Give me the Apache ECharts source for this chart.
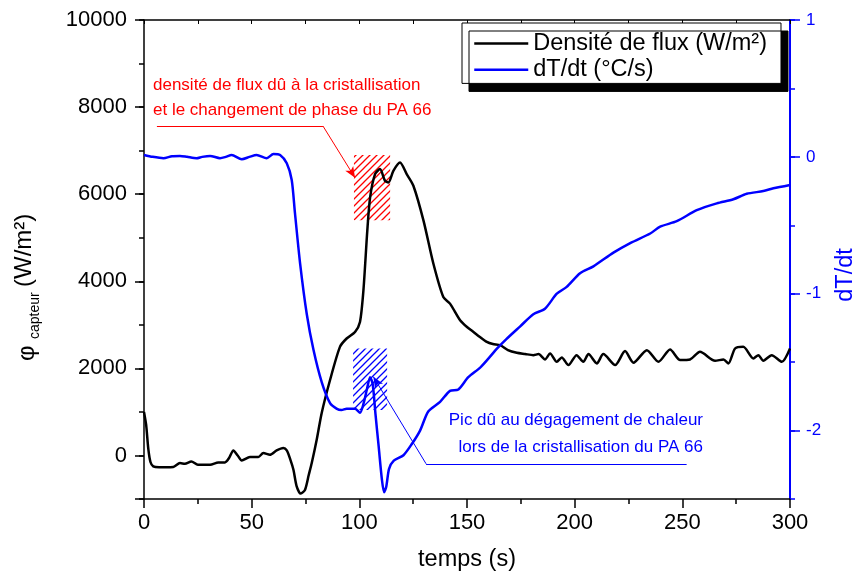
<!DOCTYPE html>
<html><head><meta charset="utf-8">
<script src="https://cdn.jsdelivr.net/npm/echarts@6/dist/echarts.min.js"></script>
<style>html,body{margin:0;padding:0;background:#fff}#c{width:856px;height:575px}</style>
</head><body><div id="c"></div>
<script>
// ---------- data ----------
const fluxTime = [0,1,2,3,4.3,7,10,13.6,16.7,19,22,25,30.7,34.5,37.6,39.5,41.5,43.5,45.4,49.2,53.1,55.4,58.5,61.6,64.7,66.3,68,69.4,70.9,72.8,74.8,76.5,77.9,80.2,82.5,86.4,91,94.1,98,100.3,101.9,103.7,105,107.3,109.6,111.9,113.5,115.8,118.9,122,125.1,129.8,134.4,139,142.1,146.8,150,153,156,159.2,162,165.4,169,173.1,177,180.8,183.2,186.2,188.6,191.7,194,197.1,200.9,204,206.4,210.3,213.3,218.8,223.4,227.3,233.5,238.9,244.3,249,253.6,258.2,265.2,269.1,271.4,274.5,278.3,283,285.3,287.6,291.5,296.2,300];
const fluxValues = [1000,700,150,-150,-250,-270,-270,-265,-175,-190,-137,-213,-213,-160,-160,-60,115,0,-115,-37,-37,55,16,115,170,115,-100,-327,-709,-876,-785,-450,-174,359,970,1732,2494,2686,2837,3066,3791,5164,5926,6461,6576,6308,6269,6537,6727,6461,6194,5393,4402,3638,3487,3105,2950,2837,2720,2608,2560,2533,2420,2357,2330,2304,2327,2205,2343,2151,2251,2075,2304,2151,2327,2114,2327,2075,2396,2128,2418,2151,2434,2190,2205,2380,2174,2205,2114,2457,2494,2228,2304,2174,2304,2151,2457];
const rateTime = [0,4,9,13,16.7,20,24.4,27,30.7,35.3,38,40.7,45.4,49,52.3,57,60.1,63.2,66.3,68.6,70.1,72.5,75.6,78.7,82.6,86.4,89.4,91.7,94.1,98,100.3,102,103.5,105,106.2,107.5,109,110.5,111.5,112.5,113.8,116,120.5,124.3,128.2,132,137.5,142.1,146,150.6,156.1,160.7,164,168.4,174.6,180.8,186.2,191.7,196.3,202.5,208.7,218,225.8,235.1,239.7,247.4,256.7,266,273.7,279.9,287.6,292.3,300];
const rateValues = [0.014,0,-0.01,0.005,0.007,0,-0.01,0,0.007,-0.01,0,0.014,-0.018,0,0.014,-0.01,0.021,0.014,-0.047,-0.169,-0.41,-0.78,-1.15,-1.41,-1.65,-1.80,-1.84,-1.85,-1.84,-1.84,-1.87,-1.80,-1.70,-1.61,-1.66,-1.88,-2.12,-2.36,-2.45,-2.41,-2.28,-2.22,-2.18,-2.10,-2.00,-1.86,-1.79,-1.71,-1.70,-1.61,-1.54,-1.46,-1.40,-1.33,-1.24,-1.15,-1.11,-1.00,-0.95,-0.85,-0.80,-0.70,-0.63,-0.56,-0.51,-0.47,-0.39,-0.34,-0.31,-0.27,-0.25,-0.23,-0.205];
const bottomTickLabels = [0,50,100,150,200,250,300];
const leftTickLabels = [0,2000,4000,6000,8000,10000];
const rightTickLabels = [-2,-1,0,1];
const seriesNames = ['Densité de flux (W/m²)','dT/dt (°C/s)'];
// annotation anchors (data coordinates)
const redHatch = [[97.5,6900],[114.3,5400]];
const blueHatch = [[97.1,-1.40],[112.9,-1.85]];
const redLeader = [[6,7566],[83.1,7566],[98,6377]];
const blueLeader = [[252,-2.243],[131,-2.243],[106.5,-1.606]];

const FONT = '"Liberation Sans", Arial, sans-serif';
function hatch(color){
  const c = document.createElement('canvas'); c.width = 7; c.height = 7;
  const g = c.getContext('2d'); g.strokeStyle = color; g.lineWidth = 1.3;
  g.beginPath();
  g.moveTo(0,7); g.lineTo(7,0);
  g.moveTo(-1,1); g.lineTo(1,-1);
  g.moveTo(6,8); g.lineTo(8,6);
  g.stroke();
  return {image:c, repeat:'repeat'};
}
const fluxData = fluxTime.map((t,i)=>[t,fluxValues[i]]);
const rateData = rateTime.map((t,i)=>[t,rateValues[i]]);

const chart = echarts.init(document.getElementById('c'), null, {renderer:'canvas'});
chart.setOption({
  animation:false,
  backgroundColor:'#fff',
  grid:{left:144,right:66,top:20,bottom:76,containLabel:false},
  legend:{
    orient:'vertical', left:462, top:23,
    itemWidth:54, itemHeight:14, itemGap:2.2,
    padding:[8.5,14,1.7,11],
    backgroundColor:'#fff', borderColor:'#000', borderWidth:1,
    shadowColor:'#000', shadowOffsetX:7, shadowOffsetY:8, shadowBlur:0,
    itemStyle:{opacity:0},
    lineStyle:{width:2.5},
    textStyle:{fontSize:23.5, fontFamily:FONT, color:'#000', lineHeight:20},
    data:seriesNames
  },
  xAxis:[
    {type:'value', position:'bottom', min:0, max:300, interval:25,
     axisLine:{onZero:false, lineStyle:{color:'#000', width:1.5}},
     axisTick:{length:5, lineStyle:{color:'#000', width:1.5}},
     axisLabel:{fontSize:22, fontFamily:FONT, color:'#000', margin:13,
       formatter:v=>bottomTickLabels.includes(v)?String(v):''},
     splitLine:{show:false}},
    {type:'value', position:'bottom', min:0, max:300, interval:50,
     axisLine:{show:false, onZero:false},
     axisTick:{length:9, lineStyle:{color:'#000', width:1.5}},
     axisLabel:{show:false}, splitLine:{show:false}},
    {type:'value', position:'top', min:0, max:300, interval:25,
     axisLine:{onZero:false, lineStyle:{color:'#000', width:1.5}},
     axisTick:{inside:true, length:4, lineStyle:{color:'#000', width:1}},
     axisLabel:{show:false}, splitLine:{show:false}}
  ],
  yAxis:[
    {type:'value', position:'left', min:-1000, max:10000, interval:1000,
     axisLine:{show:true, onZero:false, lineStyle:{color:'#000', width:1.5}},
     axisTick:{show:true, length:5, lineStyle:{color:'#000', width:1.5}},
     axisLabel:{fontSize:22, fontFamily:FONT, color:'#000', margin:17,
       formatter:v=>leftTickLabels.includes(v)?String(v):''},
     splitLine:{show:false}},
    {type:'value', position:'right', min:-2.5, max:1, interval:0.5,
     axisLine:{show:true, onZero:false, lineStyle:{color:'#0000FF', width:2}},
     axisTick:{show:true, length:5, lineStyle:{color:'#0000FF', width:1.5}},
     axisLabel:{fontSize:17, fontFamily:FONT, color:'#0000FF', margin:16,
       formatter:v=>rightTickLabels.includes(v)?String(v):''},
     splitLine:{show:false}},
    {type:'value', position:'left', min:-1000, max:10000, interval:1000,
     axisLine:{show:false, onZero:false},
     axisTick:{show:true, length:9, customValues:[-1000].concat(leftTickLabels), lineStyle:{color:'#000', width:1.5}},
     axisLabel:{show:false}, splitLine:{show:false}},
    {type:'value', position:'right', min:-2.5, max:1, interval:0.5,
     axisLine:{show:false, onZero:false},
     axisTick:{show:true, length:10, customValues:rightTickLabels, lineStyle:{color:'#0000FF', width:1.5}},
     axisLabel:{show:false}, splitLine:{show:false}}
  ],
  series:[
    {name:seriesNames[0], type:'line', xAxisIndex:0, yAxisIndex:0, data:fluxData,
     symbol:'none', smooth:0.25, z:3,
     lineStyle:{color:'#000', width:2.5}, itemStyle:{color:'#000'},
     markArea:{silent:true, itemStyle:{color:hatch('#FF0000'), borderWidth:0},
       data:[[{coord:redHatch[0]},{coord:redHatch[1]}]]},
     markLine:{silent:true, symbolSize:[7,11], label:{show:false}, emphasis:{disabled:true},
       lineStyle:{color:'#FF0000', width:1, type:'solid'},
       data:[
         [{coord:redLeader[0], symbol:'none'},{coord:redLeader[1], symbol:'none'}],
         [{coord:redLeader[1], symbol:'none'},{coord:redLeader[2], symbol:'arrow'}]
       ]}},
    {name:seriesNames[1], type:'line', xAxisIndex:0, yAxisIndex:1, data:rateData,
     symbol:'none', smooth:0.25, z:3,
     lineStyle:{color:'#0000FF', width:2.5}, itemStyle:{color:'#0000FF'},
     markArea:{silent:true, itemStyle:{color:hatch('#0000FF'), borderWidth:0},
       data:[[{coord:blueHatch[0]},{coord:blueHatch[1]}]]},
     markLine:{silent:true, symbolSize:[7,11], label:{show:false}, emphasis:{disabled:true},
       lineStyle:{color:'#0000FF', width:1, type:'solid'},
       data:[
         [{coord:blueLeader[0], symbol:'none'},{coord:blueLeader[1], symbol:'none'}],
         [{coord:blueLeader[1], symbol:'none'},{coord:blueLeader[2], symbol:'arrow'}]
       ]}}
  ],
  graphic:[
    {type:'text', x:467, y:560, silent:true,
     style:{text:'temps (s)', font:'23.5px '+FONT, fill:'#000', align:'center', verticalAlign:'middle'}},
    {type:'text', x:27, y:361, rotation:Math.PI/2, silent:true,
     style:{text:'φ', font:'24px '+FONT, fill:'#000', align:'left', verticalAlign:'middle'}},
    {type:'text', x:35, y:339, rotation:Math.PI/2, silent:true,
     style:{text:'capteur', font:'14px '+FONT, fill:'#000', align:'left', verticalAlign:'middle'}},
    {type:'text', x:24, y:287, rotation:Math.PI/2, silent:true,
     style:{text:'(W/m²)', font:'24px '+FONT, fill:'#000', align:'left', verticalAlign:'middle'}},
    {type:'text', x:846, y:275, rotation:Math.PI/2, silent:true,
     style:{text:'dT/dt', font:'23.5px '+FONT, fill:'#0000FF', align:'center', verticalAlign:'middle'}},
    {type:'text', x:153, y:85, silent:true,
     style:{text:'densité de flux dû à la cristallisation', font:'17px '+FONT, fill:'#FF0000', align:'left', verticalAlign:'middle'}},
    {type:'text', x:153, y:110, silent:true,
     style:{text:'et le changement de phase du PA 66', font:'17px '+FONT, fill:'#FF0000', align:'left', verticalAlign:'middle'}},
    {type:'text', x:703, y:420, silent:true,
     style:{text:'Pic dû au dégagement de chaleur', font:'17px '+FONT, fill:'#0000FF', align:'right', verticalAlign:'middle'}},
    {type:'text', x:703, y:447, silent:true,
     style:{text:'lors de la cristallisation du PA 66', font:'17px '+FONT, fill:'#0000FF', align:'right', verticalAlign:'middle'}}
  ]
});
</script></body></html>
